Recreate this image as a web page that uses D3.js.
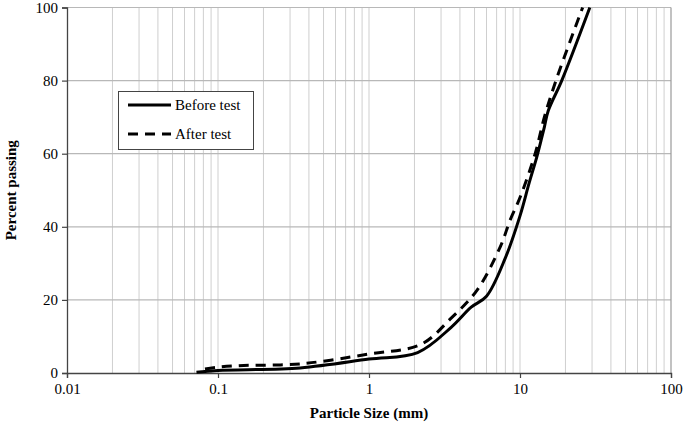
<!DOCTYPE html>
<html><head><meta charset="utf-8">
<script src="https://cdn.jsdelivr.net/npm/d3@7"></script>
<style>body{margin:0;background:#fff}svg{display:block}text{font-family:"Liberation Serif","Times New Roman",serif}</style>
</head><body><svg id="c" width="685" height="428"></svg>
<script>
const seriesNames = ["Before test", "After test"];
const beforeSize = [0.072, 0.1, 0.35, 1, 2.1, 3.5, 4.75, 6, 8, 10, 11.5, 12.9, 13.8, 14.5, 15.4, 18.9, 29];
const beforePass = [0.2, 0.7, 1.4, 3.8, 5.6, 12.5, 18, 21, 31.5, 43, 52, 59, 63.7, 67.3, 71.8, 80, 100];
const afterSize = [0.082, 0.1, 0.136, 0.35, 1, 2.2, 3.5, 5.2, 7.4, 8.6, 10, 12.6, 14.5, 17.3, 26];
const afterPass = [1.1, 1.6, 2.0, 2.5, 5.2, 7.8, 15, 22.7, 34.5, 41.8, 48, 60, 70, 80, 100];
const xTicks = [0.01, 0.1, 1, 10, 100];
const yTicks = [0, 20, 40, 60, 80, 100];

const svg = d3.select("#c");
const L = 67, R = 671, T = 7.5, B = 373;
const x = d3.scaleLog().domain([0.01, 100]).range([L, R]);
const y = d3.scaleLinear().domain([0, 100]).range([B, T]);

// minor vertical gridlines
const minor = [];
for (let e = -2; e < 2; e++) for (let m = 1; m <= 9; m++) { const v = m * Math.pow(10, e); if (v > 0.01) minor.push(v); }
svg.append("g").selectAll("line").data(minor).join("line")
  .attr("x1", d => x(d)).attr("x2", d => x(d)).attr("y1", T).attr("y2", B)
  .attr("stroke", "#cfcfcf").attr("stroke-width", 1);
svg.append("g").selectAll("line").data(yTicks.filter(d => d > 0)).join("line")
  .attr("x1", L).attr("x2", R).attr("y1", d => y(d)).attr("y2", d => y(d))
  .attr("stroke", "#b8b8b8").attr("stroke-width", 1.2);
// right border
svg.append("line").attr("x1", R).attr("x2", R).attr("y1", T).attr("y2", B).attr("stroke", "#999").attr("stroke-width", 1.2);

// axes
const xAxis = d3.axisBottom(x).tickValues(xTicks).tickFormat(d => String(d)).tickSize(5).tickPadding(5);
const gx = svg.append("g").attr("transform", `translate(0,${B})`).call(xAxis);
const yAxis = d3.axisLeft(y).tickValues(yTicks).tickSize(5).tickPadding(4);
const gy = svg.append("g").attr("transform", `translate(${L},0)`).call(yAxis);
[gx, gy].forEach(g => {
  g.select(".domain").attr("stroke", "#444").attr("stroke-width", 1.3);
  g.selectAll(".tick line").attr("stroke", "#444").attr("stroke-width", 1.2);
  g.selectAll(".tick text").attr("font-family", "Liberation Serif").attr("font-size", 15).attr("fill", "#000");
});

// lines
const line = d3.line().x(d => x(d[0])).y(d => y(d[1])).curve(d3.curveCatmullRom.alpha(0.5));
const beforeData = beforeSize.map((s, i) => [s, beforePass[i]]);
const afterData = afterSize.map((s, i) => [s, afterPass[i]]);
svg.append("path").datum(afterData).attr("d", line).attr("fill", "none")
  .attr("stroke", "#000").attr("stroke-width", 3).attr("stroke-dasharray", "10,7");
svg.append("path").datum(beforeData).attr("d", line).attr("fill", "none")
  .attr("stroke", "#000").attr("stroke-width", 3);

// legend
const lg = svg.append("g");
lg.append("rect").attr("x", 118.5).attr("y", 91.5).attr("width", 135).attr("height", 58)
  .attr("fill", "#fff").attr("stroke", "#444").attr("stroke-width", 1);
const ly = [105, 134];
seriesNames.forEach((n, i) => {
  lg.append("line").attr("x1", 128).attr("x2", 171).attr("y1", ly[i]).attr("y2", ly[i])
    .attr("stroke", "#000").attr("stroke-width", 3).attr("stroke-dasharray", i ? "10,7" : null);
  lg.append("text").attr("x", 175).attr("y", ly[i] + 5).attr("font-size", 15).text(n);
});

// titles
svg.append("text").attr("x", (L + R) / 2).attr("y", 418).attr("text-anchor", "middle")
  .attr("font-size", 15).attr("font-weight", "bold").text("Particle Size (mm)");
svg.append("text").attr("transform", `translate(16,${(T + B) / 2}) rotate(-90)`).attr("text-anchor", "middle")
  .attr("font-size", 15).attr("font-weight", "bold").text("Percent passing");
</script></body></html>
